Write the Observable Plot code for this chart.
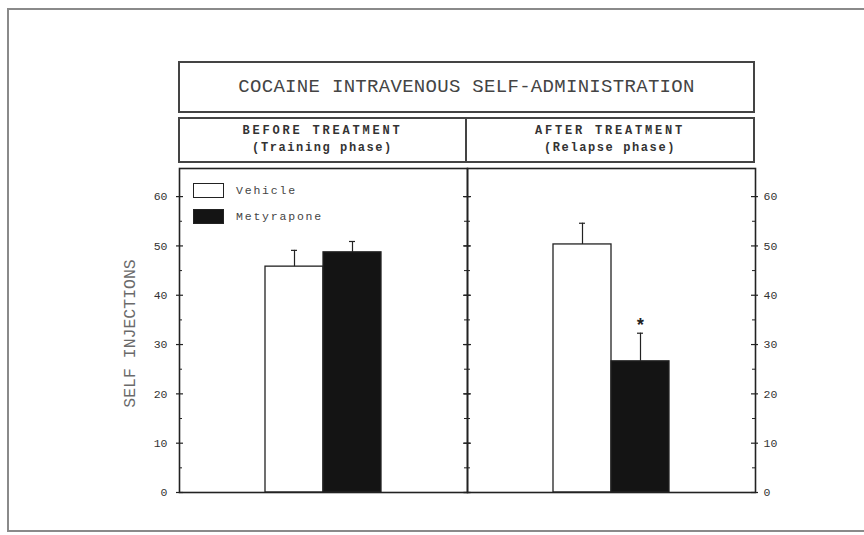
<!DOCTYPE html>
<html>
<head>
<meta charset="utf-8">
<script src="https://cdn.jsdelivr.net/npm/d3@7"></script>
<script src="https://cdn.jsdelivr.net/npm/@observablehq/plot@0.6"></script>
<style>
  html, body { margin: 0; padding: 0; background: #fff; overflow: hidden; }
  #wrap { position: relative; width: 864px; height: 535px; overflow: hidden; font-family: "Liberation Mono", "DejaVu Sans Mono", monospace; color: #3a3a3a; }
  #sheet { position: absolute; left: 7px; top: 8px; width: 900px; height: 524px; border: 2px solid #8a8a8a; box-sizing: border-box; }
  #chart { position: absolute; left: 0; top: 0; }
  .box { position: absolute; border: 2px solid #444; box-sizing: border-box; background: #fff; }
  #title { left: 178px; top: 61px; width: 577px; height: 52px; display: flex; align-items: center; justify-content: center; font-size: 19px; letter-spacing: 0.3px; color: #444; }
  .head { top: 117px; height: 46px; display: flex; flex-direction: column; align-items: center; justify-content: center; font-size: 12px; line-height: 17px; font-weight: bold; color: #333; }
  .head .l1 { letter-spacing: 2.8px; }
  .head .l2 { letter-spacing: 1.6px; }
  #legend { position: absolute; left: 193px; top: 183px; font-size: 11.5px; color: #444; letter-spacing: 1.8px; }
  #legend .row { display: flex; align-items: center; height: 15px; margin-bottom: 11px; }
  #legend .sw { width: 31px; height: 15px; border: 1.5px solid #222; box-sizing: border-box; margin-right: 12px; }
</style>
</head>
<body>
<div id="wrap">
  <div id="sheet"></div>
  <div id="chart"></div>
  <div id="title" class="box"></div>
  <div id="headL" class="box head"></div>
  <div id="headR" class="box head"></div>
  <div id="legend"></div>
</div>
<script>
// Cocaine self-injections (mean ± SEM) before and after treatment
const title = "COCAINE INTRAVENOUS SELF-ADMINISTRATION";
const phases = ["Before", "After"];
const phaseTitles = ["BEFORE TREATMENT", "AFTER TREATMENT"];
const phaseSubtitles = ["(Training phase)", "(Relapse phase)"];
const groups = ["Vehicle", "Metyrapone"];
const groupFills = ["#ffffff", "#141414"];
const meanBefore = [45.8, 48.7];
const meanAfter = [50.3, 26.6];
const semBefore = [3.3, 2.2];
const semAfter = [4.3, 5.7];
const signifBefore = ["", ""];
const signifAfter = ["", "*"];
const yTicks = [0, 10, 20, 30, 40, 50, 60];
const yMinorTicks = [5, 15, 25, 35, 45, 55];
const yLabel = "SELF INJECTIONS";

// one row per bar
const rows = [];
[[meanBefore, semBefore, signifBefore], [meanAfter, semAfter, signifAfter]].forEach(([m, s, sig], i) => {
  groups.forEach((g, j) => rows.push({phase: phases[i], group: g, mean: m[j], sem: s[j], top: m[j] + s[j], sig: sig[j]}));
});

// header boxes above the plot
document.getElementById("title").textContent = title;
const headL = document.getElementById("headL");
const headR = document.getElementById("headR");
headL.style.left = "178px"; headL.style.width = "289px";
headR.style.left = "465px"; headR.style.width = "290px";
[headL, headR].forEach((el, i) => {
  el.innerHTML = `<div class="l1">${phaseTitles[i]}</div><div class="l2">${phaseSubtitles[i]}</div>`;
});

// legend
const legend = document.getElementById("legend");
groups.forEach((g, j) => {
  const row = document.createElement("div");
  row.className = "row";
  row.innerHTML = `<div class="sw" style="background:${groupFills[j]}"></div><span>${g}</span>`;
  legend.appendChild(row);
});

const panelW = 288;
const ink = "#222";

const chart = Plot.plot({
  width: 864,
  height: 535,
  marginTop: 168,
  marginBottom: 43,
  marginLeft: 179,
  marginRight: 109,
  style: {fontFamily: "Liberation Mono, DejaVu Sans Mono, monospace", fontSize: "11px", color: "#333", background: "transparent"},
  fx: {domain: phases, padding: 0, axis: null},
  x: {domain: groups, paddingInner: 0, paddingOuter: 1.48, axis: null},
  y: {domain: [0, 65.7], axis: null},
  color: {domain: groups, range: groupFills},
  marks: [
    Plot.barY(rows, {fx: "phase", x: "group", y: "mean", fill: "group", stroke: ink, strokeWidth: 1.3}),
    Plot.ruleX(rows, {fx: "phase", x: "group", y1: "mean", y2: "top", stroke: ink, strokeWidth: 1.2}),
    Plot.tickY(rows, {fx: "phase", x: "group", y: "top", stroke: ink, strokeWidth: 1.2, insetLeft: 26, insetRight: 26}),
    Plot.text(rows.filter(d => d.sig), {fx: "phase", x: "group", y: "top", text: "sig", dy: -8, fontSize: 18, fontWeight: "bold", fill: ink}),
    // inward ticks on every panel edge
    Plot.ruleY(yTicks, {stroke: ink, strokeWidth: 1.2, insetLeft: -3, insetRight: panelW - 4}),
    Plot.ruleY(yTicks, {stroke: ink, strokeWidth: 1.2, insetLeft: panelW - 4, insetRight: -3}),
    Plot.ruleY(yMinorTicks, {stroke: ink, strokeWidth: 1, insetLeft: 0, insetRight: panelW - 3}),
    Plot.ruleY(yMinorTicks, {stroke: ink, strokeWidth: 1, insetLeft: panelW - 3, insetRight: 0}),
    Plot.frame({stroke: ink, strokeWidth: 1.6}),
    Plot.axisY({anchor: "left", ticks: yTicks, tickSize: 0, tickPadding: 12, label: null, fontSize: 11.5}),
    Plot.axisY({anchor: "right", ticks: yTicks, tickSize: 0, tickPadding: 8, label: null, fontSize: 11.5}),
    // rotated y title beside the left panel only
    Plot.text([{phase: phases[0], t: yLabel}], {fx: "phase", text: "t", frameAnchor: "left", textAnchor: "middle", rotate: -90, dx: -50, dy: 3, fontSize: 16.5, fill: "#6a6a6a"})
  ]
});
document.getElementById("chart").appendChild(chart);
</script>
</body>
</html>
